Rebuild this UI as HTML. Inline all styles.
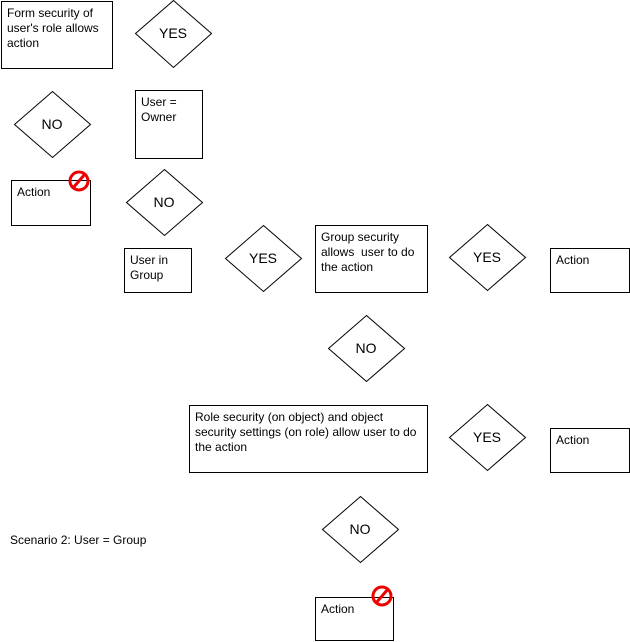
<!DOCTYPE html>
<html><head><style>
body{margin:0;width:630px;height:642px;background:#fff;position:relative;overflow:hidden;font-family:"Liberation Sans",Arial,sans-serif;font-size:12px;color:#000}
.b{position:absolute;border:1px solid #000;box-sizing:border-box;padding:4px 5px;line-height:15px;background:#fff}
.t{position:absolute;font-size:12px}
svg{position:absolute;left:0;top:0}
</style></head><body>
<svg width="630" height="642">
<g fill="#fff" stroke="#000" stroke-width="1">
<polygon points="173.5,0.5 211.5,33.5 173.5,67.5 135.5,33.5"/>
<polygon points="52.5,91.5 90.5,124.5 52.5,157.5 14.5,124.5"/>
<polygon points="164.5,169.5 202.5,202.5 164.5,235.5 126.5,202.5"/>
<polygon points="263.5,225.5 301.5,258.5 263.5,291.5 225.5,258.5"/>
<polygon points="487.5,224.5 525.5,257.5 487.5,290.5 449.5,257.5"/>
<polygon points="366.5,315.5 404.5,348.5 366.5,381.5 328.5,348.5"/>
<polygon points="487.5,404.5 525.5,437.5 487.5,470.5 449.5,437.5"/>
<polygon points="360.5,496.5 398.5,529.5 360.5,562.5 322.5,529.5"/>
</g>
<g font-family="Liberation Sans,Arial,sans-serif" font-size="14" text-anchor="middle">
<text x="173" y="38">YES</text><text x="52" y="129">NO</text><text x="164" y="207">NO</text>
<text x="263" y="263">YES</text><text x="487" y="262">YES</text><text x="366" y="353">NO</text>
<text x="487" y="442">YES</text><text x="360" y="534">NO</text>
</g>
</svg>
<div class="b" style="left:1px;top:1px;width:112px;height:68px">Form security of user's role allows action</div>
<div class="b" style="left:135px;top:90px;width:68px;height:69px">User =<br>Owner</div>
<div class="b" style="left:11px;top:180px;width:80px;height:46px">Action</div>
<div class="b" style="left:124px;top:248px;width:68px;height:45px">User in Group</div>
<div class="b" style="left:315px;top:225px;width:113px;height:68px">Group security allows &nbsp;user to do the action</div>
<div class="b" style="left:550px;top:248px;width:80px;height:45px">Action</div>
<div class="b" style="left:189px;top:405px;width:239px;height:68px">Role security (on object) and object security settings (on role) allow user to do the action</div>
<div class="b" style="left:550px;top:428px;width:80px;height:45px">Action</div>
<div class="b" style="left:315px;top:597px;width:79px;height:44px">Action</div>
<div class="t" style="left:10px;top:533px">Scenario 2: User = Group</div>
<svg width="630" height="642">
<g fill="none" stroke="#e00" stroke-width="3">
<circle cx="79" cy="181" r="9"/><line x1="73" y1="188" x2="85" y2="174"/>
<circle cx="382" cy="596" r="9"/><line x1="376" y1="603" x2="388" y2="589"/>
</g>
</svg>
</body></html>
